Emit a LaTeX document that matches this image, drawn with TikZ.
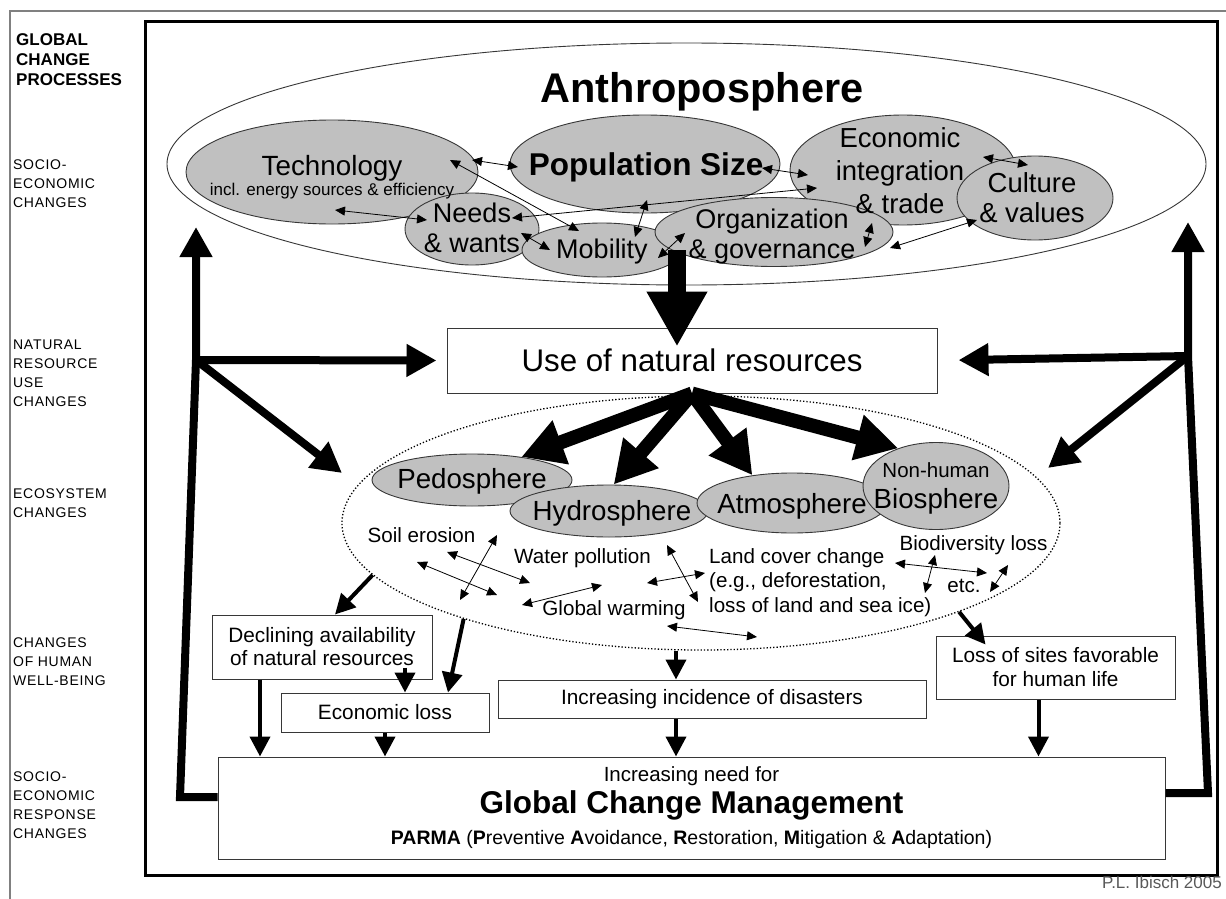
\documentclass[tikz,border=0pt]{standalone}
\usepackage{fontspec}
\setmainfont{Liberation Sans}
\newfontfamily\sidefont[LetterSpace=5]{Liberation Sans}
\usetikzlibrary{arrows.meta,positioning,calc,shapes.geometric}
\definecolor{sphgray}{RGB}{192,192,192}
\definecolor{lineg}{RGB}{55,55,55}
\newcommand{\fsz}[2]{\fontsize{#1}{#2}\selectfont}
\tikzset{sph/.style={ellipse,draw=lineg,line width=0.9pt,fill=sphgray,inner sep=0pt},
  bx/.style={draw=lineg,line width=1pt,fill=white,inner sep=0pt,align=center},
  txt/.style={inner sep=0pt,align=center,anchor=base},
  side/.style={anchor=base west,align=left,inner sep=0pt,font=\sidefont\fsz{14}{18.8}},
  dbl/.style={{Triangle[length=10pt,width=9pt]}-{Triangle[length=10pt,width=9pt]},line width=0.8pt},
  bigflow/.style={-{Triangle[length=55pt,width=57pt]},line width=18pt},
  sphflow/.style={-{Triangle[length=42pt,width=44pt]},line width=14pt},
  fb/.style={-{Triangle[length=30pt,width=31pt]},line width=8pt},
  mflow/.style={-{Triangle[length=20pt,width=20pt]},line width=4pt}}

\begin{document}
\begin{tikzpicture}[x=1pt,y=-1pt]
\useasboundingbox (0,0) rectangle (1226,899);
\draw[gray,line width=1.2pt] (10,899) -- (10,11) -- (1226,11);
\draw[line width=3pt] (145,22) rectangle (1217,875);
\node[side,font=\fsz{17}{20}\bfseries] (hdr) at (16,85) {GLOBAL\\CHANGE\\PROCESSES};
\node[side] (lsoc) at (13,207) {SOCIO-\\ECONOMIC\\CHANGES};
\node[side] (lnat) at (13,406) {NATURAL\\RESOURCE\\USE\\CHANGES};
\node[side] (leco) at (13,517) {ECOSYSTEM\\CHANGES};
\node[side] (lhum) at (13,685) {CHANGES\\OF HUMAN\\WELL-BEING};
\node[side] (lresp) at (13,838) {SOCIO-\\ECONOMIC\\RESPONSE\\CHANGES};
\node[txt,anchor=base east,font=\fsz{17}{19},text=black!65] (credit) at (1222,888) {P.L. Ibisch 2005};

\node[ellipse,draw=lineg,line width=0.9pt,fill=white,minimum width=1039pt,minimum height=242pt,inner sep=0pt] (anth) at (686.5,164) {};
\node[sph,minimum width=292pt,minimum height=104pt] (tech) at (332,172) {};
\node[sph,minimum width=270pt,minimum height=98pt] (pop) at (645,164) {};
\node[sph,minimum width=226pt,minimum height=110pt] (econ) at (903,170) {};
\node[sph,minimum width=156pt,minimum height=84pt] (cult) at (1035,198) {};
\node[sph,minimum width=134pt,minimum height=72pt] (needs) at (472,229) {};
\node[sph,minimum width=160pt,minimum height=54pt] (mob) at (602,250) {};
\node[sph,minimum width=238pt,minimum height=69pt] (org) at (774,232) {};
\node[txt,font=\fsz{41.5}{45}\bfseries] (anthtxt) at (702,102) {Anthroposphere};
\node[txt,font=\fsz{27.8}{20}] (techtxt) at (332,195) {Technology\\{\fsz{17}{20}incl. energy sources \& efficiency}};
\node[txt,font=\fsz{31.5}{34}\bfseries] (poptxt) at (646,175) {Population Size};
\node[txt,font=\fsz{27.5}{33}] (econtxt) at (900,213) {Economic\\integration\\\& trade};
\node[txt,font=\fsz{27.5}{30}] (culttxt) at (1032,222) {Culture\\\& values};
\node[txt,font=\fsz{27}{30}] (needstxt) at (472,252) {Needs\\\& wants};
\node[txt,font=\fsz{27}{30}] (mobtxt) at (602,258) {Mobility};
\node[txt,font=\fsz{27}{30}] (orgtxt) at (772,258) {Organization\\\& governance};

\coordinate (a1a) at (472,160); \coordinate (a1b) at (518,167);
\coordinate (a2a) at (450,160); \coordinate (a2b) at (579,231);
\coordinate (a3a) at (335,210); \coordinate (a3b) at (427,220);
\coordinate (a4a) at (512,218); \coordinate (a4b) at (817,188);
\coordinate (a5a) at (521,233); \coordinate (a5b) at (550,250);
\coordinate (a6a) at (647,200); \coordinate (a6b) at (635,237);
\coordinate (a7a) at (658,258); \coordinate (a7b) at (685,233);
\coordinate (a8a) at (762,168); \coordinate (a8b) at (808,175);
\coordinate (a9a) at (983,157); \coordinate (a9b) at (1028,165);
\coordinate (a10a) at (890,248); \coordinate (a10b) at (977,220);
\coordinate (a11a) at (872,223); \coordinate (a11b) at (865,247);
\draw[dbl] (a1a) -- (a1b); \draw[dbl] (a2a) -- (a2b); \draw[dbl] (a3a) -- (a3b);
\draw[dbl] (a4a) -- (a4b); \draw[dbl] (a5a) -- (a5b); \draw[dbl] (a6a) -- (a6b);
\draw[dbl] (a7a) -- (a7b); \draw[dbl] (a8a) -- (a8b); \draw[dbl] (a9a) -- (a9b);
\draw[dbl] (a10a) -- (a10b); \draw[dbl] (a11a) -- (a11b);

\node[ellipse,draw,dotted,line width=1.3pt,minimum width=718pt,minimum height=254pt,inner sep=0pt] (eco) at (701,523) {};
\node[sph,minimum width=200pt,minimum height=52pt] (pedo) at (472,480) {};
\node[sph,minimum width=198pt,minimum height=52pt] (hydro) at (609,511) {};
\node[sph,minimum width=190pt,minimum height=60pt] (atmo) at (792,503) {};
\node[sph,minimum width=146pt,minimum height=87pt] (bio) at (936,486) {};
\node[txt,font=\fsz{27.7}{30}] (pedotxt) at (472,488) {Pedosphere};
\node[txt,font=\fsz{27.7}{30}] (hydrotxt) at (612,520) {Hydrosphere};
\node[txt,font=\fsz{27.7}{30}] (atmotxt) at (792,513) {Atmosphere};
\node[txt,font=\fsz{20.5}{31}] (biotxt) at (936,508) {Non-human\\{\fsz{27.7}{31}Biosphere}};
\node[txt,font=\fsz{20.6}{24}] (soil) at (421.5,542) {Soil erosion};
\node[txt,font=\fsz{20.6}{24}] (water) at (582.5,563) {Water pollution};
\node[txt,font=\fsz{20.6}{24}] (warm) at (614,615) {Global warming};
\node[txt,font=\fsz{20.6}{24.5},anchor=base west,align=left] (land) at (709,612) {Land cover change\\(e.g., deforestation,\\loss of land and sea ice)};
\node[txt,font=\fsz{20.6}{24}] (biodiv) at (973.5,550) {Biodiversity loss};
\node[txt,font=\fsz{20.6}{24}] (etc) at (964,592) {etc.};

\coordinate (q1a) at (497,535); \coordinate (q1b) at (460,600);
\coordinate (q2a) at (447,552); \coordinate (q2b) at (530,583);
\coordinate (q3a) at (417,562); \coordinate (q3b) at (497,595);
\coordinate (q4a) at (522,605); \coordinate (q4b) at (602,585);
\coordinate (q5a) at (667,545); \coordinate (q5b) at (698,602);
\coordinate (q6a) at (647,583); \coordinate (q6b) at (705,573);
\coordinate (q7a) at (667,626); \coordinate (q7b) at (757,637);
\coordinate (q8a) at (895,563); \coordinate (q8b) at (987,573);
\coordinate (q9a) at (935,555); \coordinate (q9b) at (925,593);
\coordinate (q10a) at (1008,565); \coordinate (q10b) at (990,592);
\draw[dbl] (q1a) -- (q1b); \draw[dbl] (q2a) -- (q2b); \draw[dbl] (q3a) -- (q3b);
\draw[dbl] (q4a) -- (q4b); \draw[dbl] (q5a) -- (q5b); \draw[dbl] (q6a) -- (q6b);
\draw[dbl] (q7a) -- (q7b); \draw[dbl] (q8a) -- (q8b); \draw[dbl] (q9a) -- (q9b);
\draw[dbl] (q10a) -- (q10b);

\node[bx,minimum width=490pt,minimum height=65pt,font=\fsz{31.3}{34}] (use) at (692,360.5) {Use of natural resources};
\coordinate (anthbot) at (677,250);
\draw[bigflow,shorten >=-19pt] (anthbot) -- (anthbot |- use.north);
\draw[sphflow] (use.south) -- (pedo.25);
\draw[sphflow] (use.south) -- (hydro.80);
\draw[sphflow] (use.south) -- (atmo.145);
\draw[sphflow] (use.south) -- (bio.135);

\node[bx,minimum width=220pt,minimum height=64pt,font=\fsz{20.8}{23}] (decl) at (322,647) {Declining availability\\of natural resources};
\node[bx,minimum width=208pt,minimum height=39pt,font=\fsz{20.8}{23}] (ecoloss) at (385,712.5) {Economic loss};
\node[bx,minimum width=428pt,minimum height=38pt,font=\fsz{20.8}{23}] (disas) at (712,699) {Increasing incidence of disasters};
\node[bx,minimum width=239pt,minimum height=63pt,font=\fsz{20.8}{24}] (sites) at (1055.5,667.5) {Loss of sites favorable\\for human life};
\node[bx,minimum width=947pt,minimum height=102pt,font=\fsz{20.5}{31.5}] (gcm) at (691.5,808) {Increasing need for\\{\fsz{31.5}{31.5}\bfseries Global Change Management}\\{\fsz{19.5}{31.5}\textbf{PARMA} (\textbf{P}reventive \textbf{A}voidance, \textbf{R}estoration, \textbf{M}itigation \& \textbf{A}daptation)}};

\coordinate (lbend) at (180,797); \coordinate (lfork) at (196,360); \coordinate (ltop) at (196,227);
\coordinate (rbend) at (1208,793); \coordinate (rfork) at (1188,356); \coordinate (rtop) at (1188,222);
\coordinate (ltip) at (342,473); \coordinate (rtip) at (1048,468);
\draw[fb] ([yshift=11pt]gcm.west) -- (lbend) -- (lfork) -- (ltop);
\draw[fb] ([yshift=15pt]gcm.east) -- (rbend) -- (rfork) -- (rtop);
\draw[fb,shorten >=10pt] (lfork) -- (use.west);
\draw[fb] (lfork) -- (ltip);
\draw[fb,shorten >=21pt] (rfork) -- (use.east);
\draw[fb] (rfork) -- (rtip);

\coordinate (dl) at ([xshift=-62pt]decl.south);
\coordinate (dr) at ([xshift=83pt]decl.south);
\coordinate (dm) at ([xshift=-25pt]eco.south);
\coordinate (sx) at ([xshift=-17pt]sites.south);
\draw[mflow] (eco.189) -- ([xshift=13pt]decl.north);
\draw[mflow] (eco.202) -- ([xshift=63pt]ecoloss.north);
\draw[mflow] ([yshift=12pt]dr) -- (dr |- ecoloss.north);
\draw[mflow] (dl) -- (dl |- gcm.north);
\draw[mflow] (ecoloss.south) -- (ecoloss.south |- gcm.north);
\draw[mflow] (dm) -- (dm |- disas.north);
\draw[mflow] (dm |- disas.south) -- (dm |- gcm.north);
\draw[mflow] (eco.-19) -- ([xshift=-70pt,yshift=-9pt]sites.north);
\draw[mflow] (sx) -- (sx |- gcm.north);
\end{tikzpicture}
\end{document}
